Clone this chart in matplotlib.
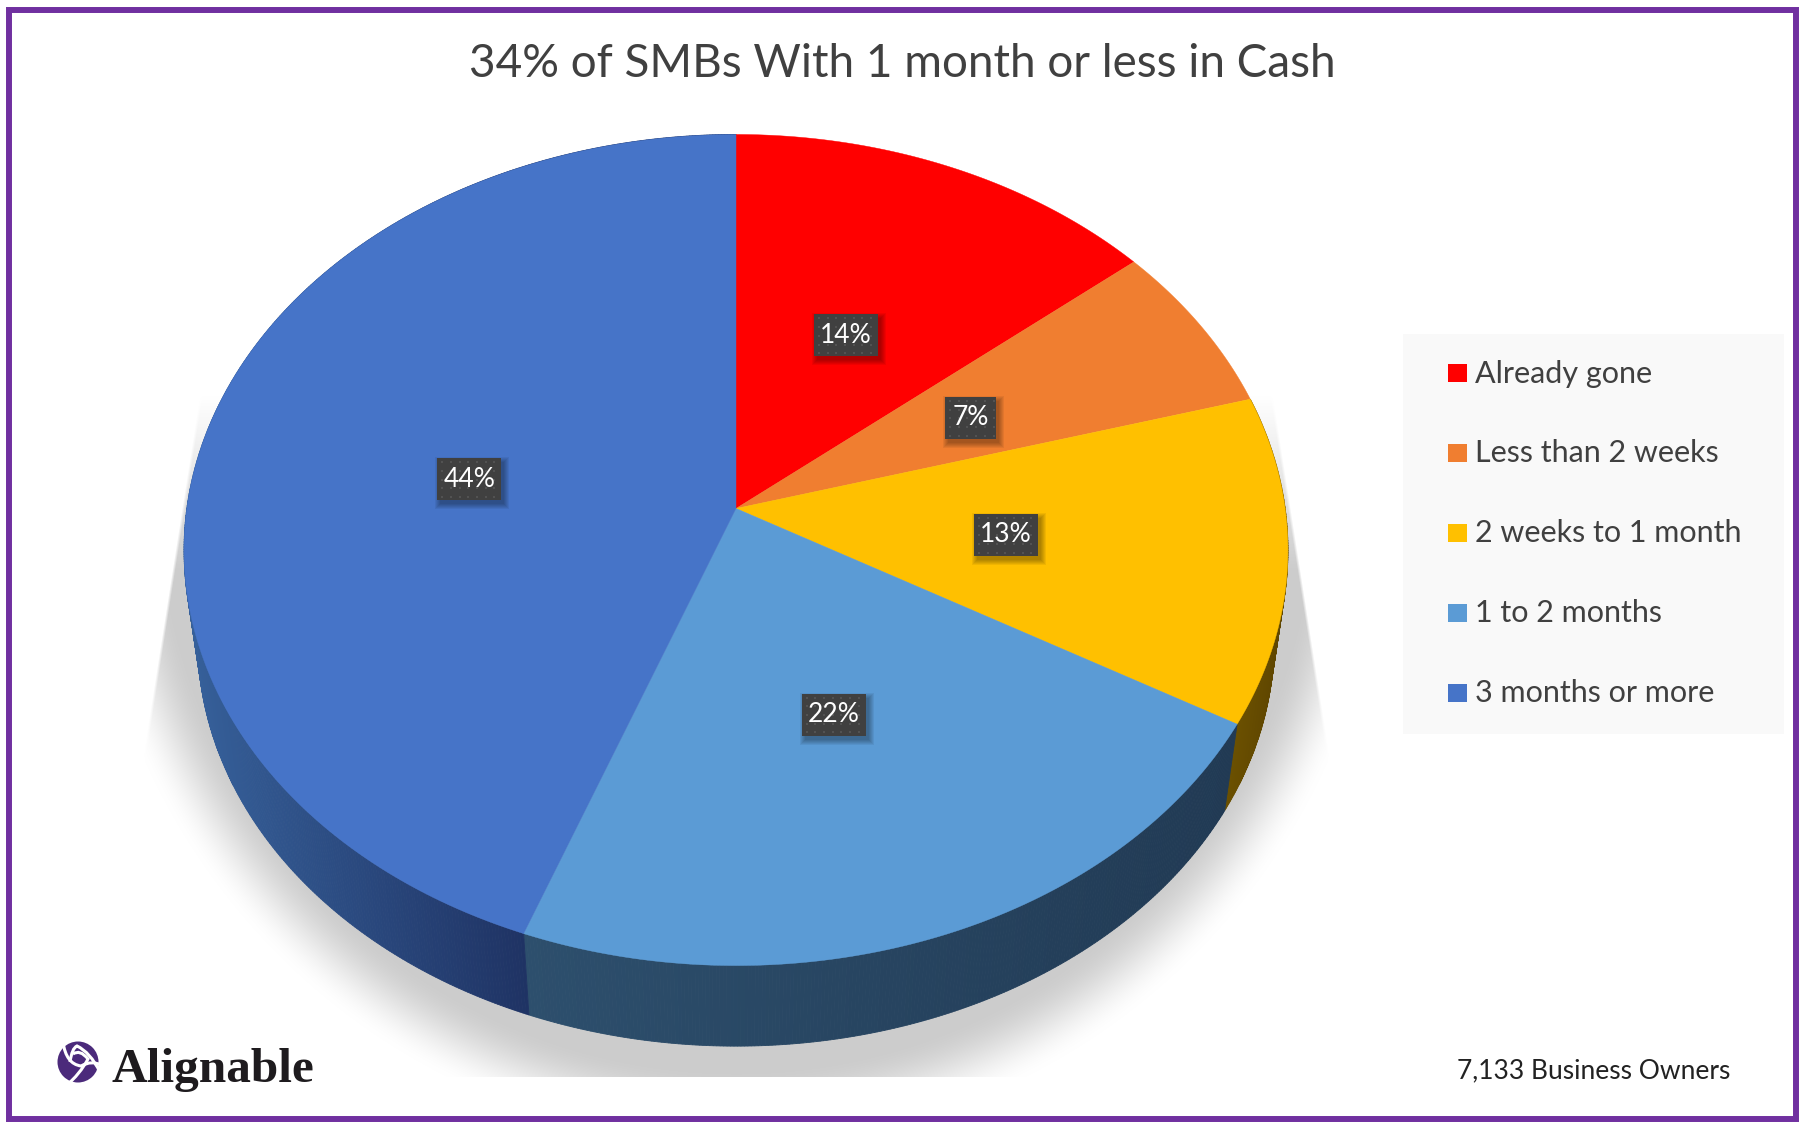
# -*- coding: utf-8 -*-
# pie_cash.py - tilted 3D pie, built by hand because matplotlib has no perspective pie

import numpy as np
import matplotlib
matplotlib.use('Agg')
import matplotlib.pyplot as plt
from matplotlib.patches import Polygon, Rectangle, Circle, PathPatch
from matplotlib.path import Path
from matplotlib.colors import to_rgb

categories = ['Already gone', 'Less than 2 weeks', '2 weeks to 1 month', '1 to 2 months', '3 months or more']
shares = [14.0, 6.6, 12.7, 22.4, 44.3]  # as measured from the slice edges
labels = ['14%', '7%', '13%', '22%', '44%']
title = '34% of SMBs With 1 month or less in Cash'
note = '7,133 Business Owners'
brand = 'Alignable'

colors = ['#FF0000', '#F07E30', '#FFC000', '#5B9BD5', '#4674C8']
# wall colours, left to right
wall_colors = [('#7F0000', '#7F0000'), ('#7A4018', '#7A4018'), ('#6B5000', '#5E4500'),
               ('#2D4F6D', '#213A54'), ('#36609A', '#1F3364')]
# small shifts of the value boxes, in pixels
label_nudge = [(-2, 5), (-3, 3), (-4, 1), (0, 3), (1, 7)]

plt.rcParams['font.family'] = ['Lato', 'DejaVu Sans']

CX, CY = 736, 508.5
A, B, K = 549.2, 411.4, 0.0999
DEPTH, SHRINK = 92, 0.975
TEXT = '#404040'


def project(theta, r=1.0, bottom=False):
    # theta in degrees, clockwise from 12 o'clock, on the unit disc
    t = np.radians(theta)
    u, v = r * np.sin(t), r * np.cos(t)
    w = 1 + K * v
    x, y = A * u / w, B * v / w
    if bottom:
        return CX + SHRINK * x, CY + DEPTH - SHRINK * y
    return CX + x, CY - y


def draw_shadow(ax):
    yy, xx = np.mgrid[380:1077, 130:1350]
    rad = np.sqrt(((xx - 736) / 610.0) ** 2 + ((yy - 490) / 615.0) ** 2)
    fade = np.clip((1.07 - rad) / 0.13, 0, 1)
    fade = fade * fade * (3 - 2 * fade)
    half = 595 + 0.157 * (yy - 767)
    side = np.clip((half - np.abs(xx - 736)) / 3.0, 0, 1)
    top = np.clip((yy - 395) / 175.0, 0, 1)
    img = np.zeros(xx.shape + (4,))
    img[..., :3] = 0.8
    img[..., 3] = fade * side * top
    ax.imshow(img, extent=(130, 1350, 1077, 380), zorder=1, aspect='auto', interpolation='bilinear')


def draw_wall(ax, start, end, pair):
    # only the part below the rim shows, top face covers the rest
    th = np.linspace(start, end, int(max(end - start, 2) * 3) + 2)
    front = th[(th >= 90) & (th <= 270)]
    if len(front) < 2:
        return
    tx = np.array([project(a)[0] for a in front])
    left, right = tx.min(), tx.max()
    c0, c1 = np.array(to_rgb(pair[0])), np.array(to_rgb(pair[1]))
    for a0, a1 in zip(th[:-1], th[1:]):
        pts = [project(a0), project(a1), project(a1, bottom=True), project(a0, bottom=True)]
        f = (project((a0 + a1) / 2)[0] - left) / max(right - left, 1)
        col = c0 + (c1 - c0) * np.clip(f, 0, 1)
        ax.add_patch(Polygon(pts, closed=True, facecolor=col, edgecolor=col, lw=0.6, zorder=2))


def draw_label(ax, x, y, txt):
    w = 64 if len(txt) > 2 else 51
    h = 42
    for grow in [5, 4, 3, 2, 1, 0]:
        ax.add_patch(Rectangle((x - w / 2 + 3 - grow, y - h / 2 + 4 - grow), w + 2 * grow, h + 2 * grow,
                               facecolor='black', alpha=0.06, lw=0, zorder=5))
    ax.add_patch(Rectangle((x - w / 2, y - h / 2), w, h, facecolor='#404040', lw=0, zorder=6))
    # the dotted texture of the box
    gx, gy = np.meshgrid(np.arange(x - w / 2 + 5, x + w / 2, 8.7), np.arange(y - h / 2 + 4, y + h / 2, 8.7))
    ax.scatter(gx.ravel(), gy.ravel(), s=2.2, marker='s', color='#525252', lw=0, zorder=6.5)
    ax.text(x, y, txt, color='white', fontsize=19, ha='center', va='center', zorder=7)


def draw_logo(ax):
    ax.add_patch(Circle((78, 1062), 20.5, facecolor='#4B2A7B', lw=0, zorder=8))
    cuts = [[(63, 1042), (66, 1064), (81, 1066), (92, 1060), (101, 1065)],
            [(73, 1054), (80, 1049), (88, 1059), (80, 1074), (66, 1086)],
            [(70, 1062), (72, 1048), (77, 1046), (90, 1052), (100, 1072)]]
    for c in cuts:
        codes = [Path.MOVETO, Path.CURVE3, Path.CURVE3, Path.CURVE3, Path.CURVE3]
        ax.add_patch(PathPatch(Path(c, codes), facecolor='none', edgecolor='white', lw=2.2, zorder=9))


fig = plt.figure(figsize=(18.08, 11.30), dpi=100)
ax = fig.add_axes([0, 0, 1, 1])
ax.set_xlim(0, 1808)
ax.set_ylim(1130, 0)
ax.axis('off')

ax.add_patch(Rectangle((9.5, 10), 1786.5, 1109, facecolor='white', edgecolor='#7030A0', lw=4.3, zorder=0))
draw_shadow(ax)

edges = np.cumsum([0] + shares) * 3.6
mids = (edges[:-1] + edges[1:]) / 2

for i in range(len(shares)):
    draw_wall(ax, edges[i], edges[i + 1], wall_colors[i])

for i in range(len(shares)):
    th = np.linspace(edges[i], edges[i + 1], 200)
    pts = [project(0, 0)] + [project(a) for a in th]
    ax.add_patch(Polygon(pts, closed=True, facecolor=colors[i], edgecolor=colors[i], lw=0.3, zorder=3))

for m, txt, shift in zip(mids, labels, label_nudge):
    x, y = project(m, 0.5)
    draw_label(ax, x + shift[0], y + shift[1], txt)

ax.text(902, 64, title, fontsize=33, color=TEXT, ha='center', va='center', zorder=8)

# legend
ax.add_patch(Rectangle((1403, 334), 381, 400, facecolor='#F9F9F9', lw=0, zorder=1))
row = 372.5
for name, col in zip(categories, colors):
    ax.add_patch(Rectangle((1448, row - 9), 19, 18, facecolor=col, lw=0, zorder=2))
    ax.text(1475, row + 1, name, fontsize=22, color=TEXT, ha='left', va='center', zorder=2)
    row += 80

ax.text(1457, 1071, note, fontsize=19, color='#222222', ha='left', va='center', zorder=8)

draw_logo(ax)
ax.text(112, 1082, brand, fontsize=35.5, weight='bold', family=['Liberation Serif', 'DejaVu Sans'], color='#1E1B1E',
        ha='left', va='baseline', zorder=8)

fig.savefig('out.png', dpi=100)
